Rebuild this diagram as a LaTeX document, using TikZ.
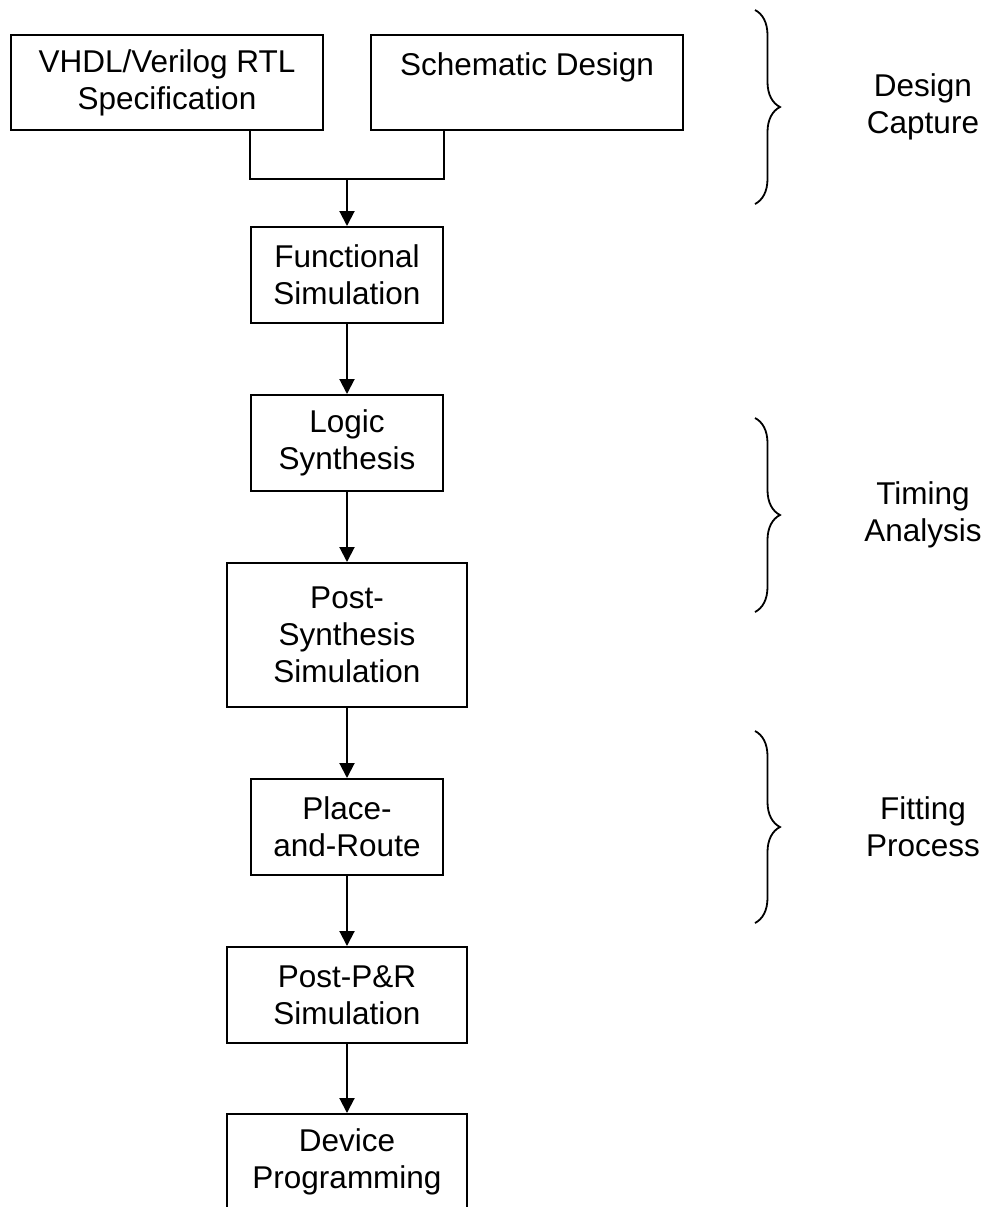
\documentclass[tikz,border=0pt]{standalone}
\usepackage{fontspec}
\setmainfont{Liberation Sans}
\usetikzlibrary{arrows.meta,decorations.pathreplacing}

\tikzset{
  stage/.style={draw,line width=1pt,align=center,inner sep=0pt,minimum width=96pt,minimum height=48pt},
  widestage/.style={stage,minimum width=120pt},
  flow/.style={line width=1pt,-{Triangle[length=7.5pt,width=7.5pt]}},
  link/.style={line width=1pt},
  phase/.style={decorate,decoration={brace,amplitude=12.5pt},line width=0.9pt},
  phasename/.style={align=center}
}

\begin{document}
\begin{tikzpicture}[x=0.5pt,y=-0.5pt,font=\fontsize{15.75}{18.5}\selectfont]
\useasboundingbox (0,0) rectangle (989,1207);

%design entry
\node[stage,minimum width=156pt,minimum height=47.5pt] (vhdl) at (167,82.5) {VHDL/Verilog RTL\\Specification};
\node[stage,minimum width=156pt,minimum height=47.5pt] (schem) at (527,82.5) {Schematic Design\\~};
\coordinate (join) at (347,179);
%flow
\node[stage] (func) at (347,275) {Functional\\Simulation};
\node[stage] (logic) at (347,443) {Logic\\Synthesis};
\node[widestage,minimum height=72pt] (postsyn) at (347,635) {Post-\\Synthesis\\Simulation};
\node[stage] (par) at (347,827) {Place-\\and-Route};
\node[widestage] (postpar) at (347,995) {Post-P\&R\\Simulation};
\node[widestage] (device) at (347,1162) {Device\\Programming};

%connectors
\draw[link] (vhdl.south -| func.west) |- (join) -| (schem.south -| func.east);
\draw[flow] (join) -- (func);
\draw[flow] (func) -- (logic);
\draw[flow] (logic) -- (postsyn);
\draw[flow] (postsyn) -- (par);
\draw[flow] (par) -- (postpar);
\draw[flow] (postpar) -- (device);

%braces
\coordinate (captop) at (755,10);
\coordinate (capbot) at (755,204);
\coordinate (timtop) at (755,418);
\coordinate (timbot) at (755,612);
\coordinate (fittop) at (755,731);
\coordinate (fitbot) at (755,923);
\draw[phase] (captop) -- (capbot);
\draw[phase] (timtop) -- (timbot);
\draw[phase] (fittop) -- (fitbot);
\node[phasename] (capture) at (923,107) {Design\\Capture};
\node[phasename] (timing) at (923,515) {Timing\\Analysis};
\node[phasename] (fitting) at (923,827) {Fitting\\Process};

\end{tikzpicture}
\end{document}
